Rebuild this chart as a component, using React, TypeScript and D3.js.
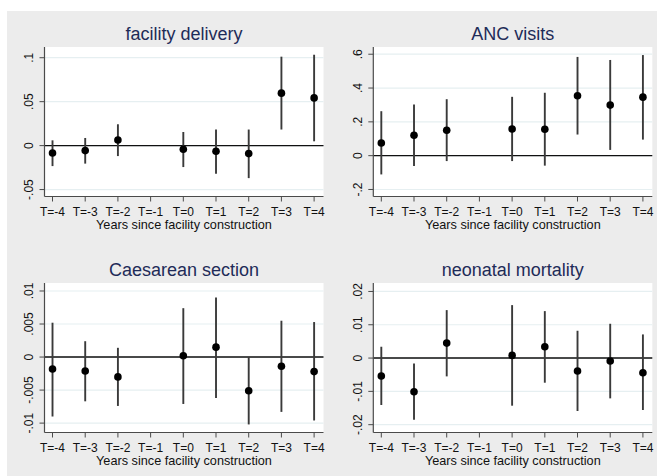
import React from 'react';
import * as d3 from 'd3';

// event-study periods, T=-1 is the omitted reference year
const periods = ['T=-4', 'T=-3', 'T=-2', 'T=-1', 'T=0', 'T=1', 'T=2', 'T=3', 'T=4'];
const periodValues = [-4, -3, -2, -1, 0, 1, 2, 3, 4];

const titles = ['facility delivery', 'ANC visits', 'Caesarean section', 'neonatal mortality'];

const facilityEst = [-0.0084, -0.0057, 0.0064, null, -0.0042, -0.0065, -0.0091, 0.0597, 0.0543];
const facilityLo = [-0.0233, -0.0205, -0.0119, null, -0.0244, -0.032, -0.037, 0.0183, 0.0049];
const facilityHi = [0.006, 0.0087, 0.0243, null, 0.0155, 0.0183, 0.0183, 0.1012, 0.1034];

const ancEst = [0.075, 0.121, 0.15, null, 0.158, 0.156, 0.354, 0.299, 0.346];
const ancLo = [-0.111, -0.061, -0.032, null, -0.032, -0.059, 0.125, 0.034, 0.095];
const ancHi = [0.263, 0.303, 0.334, null, 0.348, 0.372, 0.584, 0.566, 0.595];

const csectionEst = [-0.0018, -0.0021, -0.003, null, 0.0002, 0.0015, -0.0051, -0.0014, -0.0022];
const csectionLo = [-0.009, -0.0067, -0.0074, null, -0.0071, -0.0062, -0.0102, -0.0083, -0.0096];
const csectionHi = [0.0052, 0.0024, 0.0014, null, 0.0074, 0.009, 0, 0.0055, 0.0053];

const neonatalEst = [-0.0054, -0.0101, 0.0045, null, 0.0008, 0.0034, -0.0039, -0.0009, -0.0044];
const neonatalLo = [-0.0141, -0.0185, -0.0055, null, -0.0143, -0.0074, -0.0159, -0.0121, -0.0156];
const neonatalHi = [0.0034, -0.0016, 0.0144, null, 0.0159, 0.0141, 0.0082, 0.0103, 0.0071];

const facilityTicks = [-0.05, 0, 0.05, 0.1];
const facilityTickLabels = ['-.05', '0', '.05', '.1'];
const ancTicks = [-0.2, 0, 0.2, 0.4, 0.6];
const ancTickLabels = ['-.2', '0', '.2', '.4', '.6'];
const csectionTicks = [-0.01, -0.005, 0, 0.005, 0.01];
const csectionTickLabels = ['-.01', '-.005', '0', '.005', '.01'];
const neonatalTicks = [-0.02, -0.01, 0, 0.01, 0.02];
const neonatalTickLabels = ['-.02', '-.01', '0', '.01', '.02'];

const xTitle = 'Years since facility construction';

const FONT = '"Liberation Sans", Arial, Helvetica, sans-serif';

type Panel = {
  title: string;
  est: (number | null)[];
  lo: (number | null)[];
  hi: (number | null)[];
  ticks: number[];
  tickLabels: string[];
  domain: [number, number];
  x0: number;
  y0: number;
};

const panels: Panel[] = [
  { title: titles[0], est: facilityEst, lo: facilityLo, hi: facilityHi, ticks: facilityTicks, tickLabels: facilityTickLabels, domain: [-0.0579, 0.1122], x0: 44.5, y0: 47 },
  { title: titles[1], est: ancEst, lo: ancLo, hi: ancHi, ticks: ancTicks, tickLabels: ancTickLabels, domain: [-0.2415, 0.6427], x0: 373.3, y0: 47 },
  { title: titles[2], est: csectionEst, lo: csectionLo, hi: csectionHi, ticks: csectionTicks, tickLabels: csectionTickLabels, domain: [-0.01142, 0.01121], x0: 44.5, y0: 283 },
  { title: titles[3], est: neonatalEst, lo: neonatalLo, hi: neonatalHi, ticks: neonatalTicks, tickLabels: neonatalTickLabels, domain: [-0.02235, 0.02254], x0: 373.3, y0: 283 },
];

const PW = 279;
const PH = 149.5;

const CoefPanel = ({ p }: { p: Panel }) => {
  const x = d3.scaleLinear().domain([-4.245, 4.287]).range([p.x0, p.x0 + PW]);
  const y = d3.scaleLinear().domain(p.domain).range([p.y0 + PH, p.y0]);
  const bottom = p.y0 + PH;
  const cx = p.x0 + PW / 2;

  return (
    <g>
      <rect x={p.x0} y={p.y0} width={PW} height={PH} fill="#ffffff" />
      {p.ticks.map(t => (
        <line key={'g' + t} x1={p.x0} x2={p.x0 + PW} y1={y(t)} y2={y(t)} stroke="#e6eff1" strokeWidth={1.2} />
      ))}
      <line x1={p.x0} x2={p.x0 + PW} y1={y(0)} y2={y(0)} stroke="#111" strokeWidth={1.4} />

      {p.est.map((v, i) =>
        v === null ? null : (
          <g key={'e' + i}>
            <line
              x1={x(periodValues[i])}
              x2={x(periodValues[i])}
              y1={y(p.lo[i] as number)}
              y2={y(p.hi[i] as number)}
              stroke="#3a3a3a"
              strokeWidth={1.9}
            />
            <circle cx={x(periodValues[i])} cy={y(v)} r={3.8} fill="#000" />
          </g>
        )
      )}

      {/* axes */}
      <line x1={p.x0} x2={p.x0} y1={p.y0} y2={bottom} stroke="#4a4a4a" strokeWidth={1.2} />
      <line x1={p.x0} x2={p.x0 + PW} y1={bottom} y2={bottom} stroke="#4a4a4a" strokeWidth={1.2} />

      {p.ticks.map((t, i) => (
        <g key={'yt' + t}>
          <line x1={p.x0 - 5} x2={p.x0} y1={y(t)} y2={y(t)} stroke="#4a4a4a" strokeWidth={1} />
          <text
            transform={`translate(${p.x0 - 11.5},${y(t)}) rotate(-90)`}
            textAnchor="middle"
            fontSize={12}
            fontFamily={FONT}
            fill="#111"
          >
            {p.tickLabels[i]}
          </text>
        </g>
      ))}

      {periods.map((lab, i) => (
        <g key={'xt' + lab}>
          <line x1={x(periodValues[i])} x2={x(periodValues[i])} y1={bottom} y2={bottom + 5} stroke="#4a4a4a" strokeWidth={1} />
          <text x={x(periodValues[i])} y={bottom + 19} textAnchor="middle" fontSize={12} fontFamily={FONT} fill="#111">
            {lab}
          </text>
        </g>
      ))}

      <text x={cx} y={bottom + 32} textAnchor="middle" fontSize={12.7} fontFamily={FONT} fill="#111">
        {xTitle}
      </text>
      <text x={cx} y={p.y0 - 7} textAnchor="middle" fontSize={18} fontFamily={FONT} fill="#1e2b58">
        {p.title}
      </text>
    </g>
  );
};

const App = () => {
  return (
    <svg width={658} height={476} style={{ position: 'absolute', left: 0, top: 0 }}>
      <rect x={0} y={0} width={658} height={476} fill="#ffffff" />
      <rect x={7} y={11} width={650} height={465} fill="#ececec" />
      {panels.map(p => (
        <CoefPanel key={p.title} p={p} />
      ))}
    </svg>
  );
};

export default App;
